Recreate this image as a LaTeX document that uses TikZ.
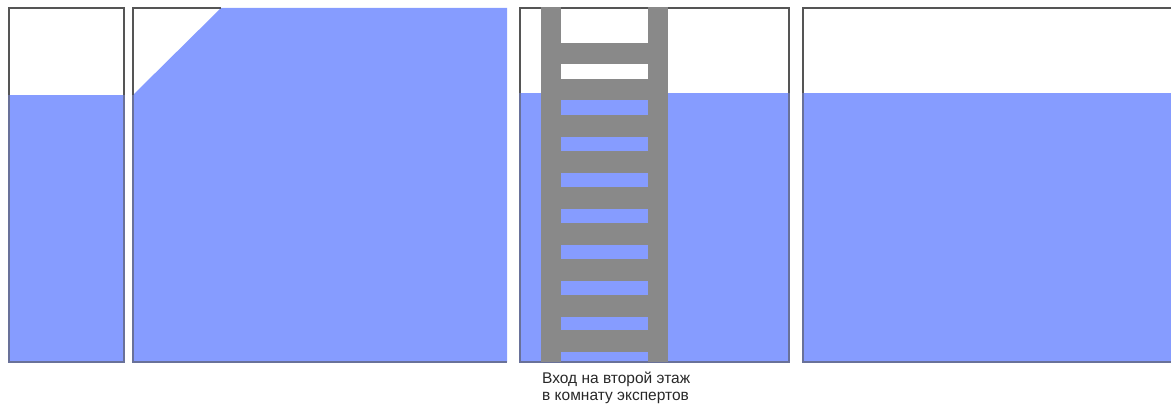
\documentclass[tikz,border=0pt]{standalone}
\usepackage{fontspec}
\setmainfont{Liberation Sans}
\definecolor{water}{RGB}{134,156,255}
\definecolor{frame}{RGB}{85,85,85}
\definecolor{ladder}{RGB}{137,137,137}
\definecolor{txt}{RGB}{40,40,40}
\tikzset{
  wfill/.style={fill=water, draw=none},
  edge/.style={draw=frame, line width=1.4pt},
  bedge/.style={draw=frame!60!water, line width=1.4pt},
  rail/.style={fill=ladder, draw=none},
}
\begin{document}
\begin{tikzpicture}[x=1pt,y=-1pt]
\useasboundingbox (0,0) rectangle (1171,404);
% panel 1
\fill[water] (9,95) rectangle (124,362);
\draw[edge] (9,95) -- (9,8) -- (124,8) -- (124,95);
\draw[bedge] (9,95) -- (9,362) -- (124,362) -- (124,95);
% panel 2
\fill[water] (133,95) -- (221,8) -- (507,8) -- (507,362) -- (133,362) -- cycle;
\draw[edge] (133,95) -- (133,8) -- (221,8);
\draw[bedge] (133,95) -- (133,362) -- (507,362);
% panel 3
\fill[water] (520,93) rectangle (789,362);
\draw[edge] (520,93) -- (520,8) -- (789,8) -- (789,93);
\draw[bedge] (520,93) -- (520,362) -- (789,362) -- (789,93);
% ladder
\fill[rail] (541,7) rectangle (561,362);
\fill[rail] (648,7) rectangle (668,362);
\foreach \y in {43,79,115,151,187,223,259,295,330} {
  \fill[rail] (561,\y) rectangle (648,\y+21.5);
}
% panel 4
\fill[water] (803,93) rectangle (1171,362);
\draw[edge] (803,93) -- (803,8) -- (1171,8);
\draw[bedge] (803,93) -- (803,362) -- (1171,362);
% label
\node[anchor=north west, align=left, inner sep=0pt, text=txt, font=\fontsize{15.5}{16.5}\selectfont] (lbl) at (542,372) {Вход на второй этаж\\в комнату экспертов};
\end{tikzpicture}
\end{document}
